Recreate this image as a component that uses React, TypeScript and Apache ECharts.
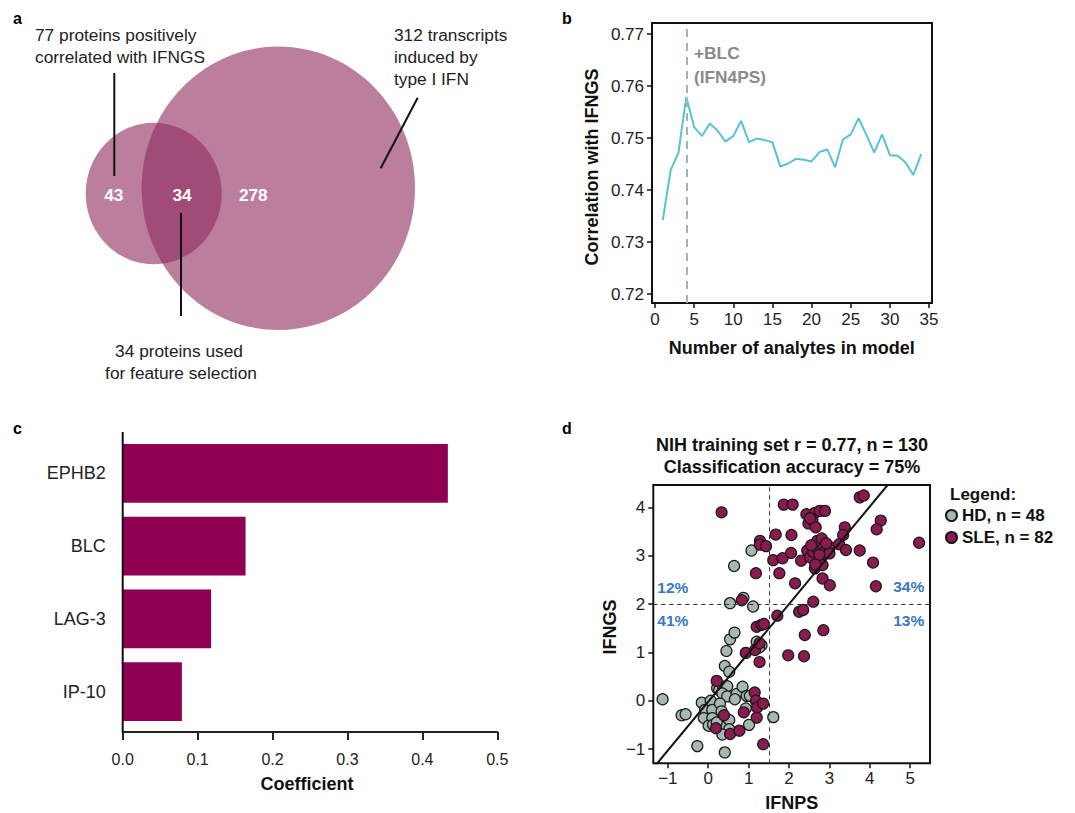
import React, { useEffect, useRef } from "react";
import * as echarts from "echarts";

const FONT = '"Liberation Sans", Arial, Helvetica, sans-serif';

// Panel a – Venn counts
const VENN_LEFT_ONLY = 43;
const VENN_OVERLAP = 34;
const VENN_RIGHT_ONLY = 278;

// Panel b – correlation vs number of analytes
const B_X = [1,2,3,4,5,6,7,8,9,10,11,12,13,14,15,16,17,18,19,20,21,22,23,24,25,26,27,28,29,30,31,32,33,34];
const B_Y = [0.7342,0.7438,0.7472,0.7579,0.7521,0.7504,0.7528,0.7514,0.7493,0.7504,0.7533,0.7492,0.7499,0.7496,0.7492,0.7445,0.7451,0.7460,0.7458,0.7455,0.7473,0.7478,0.7444,0.7497,0.7507,0.7538,0.7506,0.7472,0.7507,0.7467,0.7466,0.7453,0.7429,0.7469];
const B_XTICKS = [0, 5, 10, 15, 20, 25, 30, 35];
const B_YTICKS = [0.72, 0.73, 0.74, 0.75, 0.76, 0.77];
const BLC_STEP = 4;

// Panel c – coefficients
const C_CATS = ["EPHB2", "BLC", "LAG-3", "IP-10"];
const C_VALS = [0.434, 0.164, 0.118, 0.079];

// Panel d – scatter
const D_XTICKS = [-1, 0, 1, 2, 3, 4, 5];
const D_YTICKS = [-1, 0, 1, 2, 3, 4];
const D_XCUT = 1.5;
const D_YCUT = 2;
const REG_SLOPE = 1.01;
const REG_INTERCEPT = -0.02;
const QUAD_LABELS = ["12%", "41%", "34%", "13%"];
const HD = [
  [-1.13,0.03],[-0.66,-0.30],[-0.56,-0.28],[-0.27,-0.94],
  [-0.16,-0.04],[-0.08,-0.19],[-0.11,-0.36],[0.06,0.00],[0.10,-0.19],[0.10,-0.36],[0.01,-0.52],[0.12,-0.50],
  [0.22,0.26],[0.27,0.22],[0.37,0.29],[0.47,0.30],[0.35,0.15],[0.47,0.09],[0.29,-0.06],[0.33,-0.22],[0.37,-0.38],[0.33,-0.54],[0.52,-0.40],[0.52,-0.59],[0.35,-0.70],[0.41,-1.07],
  [0.70,0.14],[0.85,0.29],[0.95,0.10],[1.03,0.10],[0.93,-0.16],[1.01,-0.50],[1.61,-0.34],
  [0.41,0.72],[0.52,0.60],[0.45,1.03],[0.54,1.27],[0.65,1.41],[0.54,2.02],[0.87,2.13],[1.11,1.95],[0.64,2.79],[1.07,3.11],[1.20,1.22],[1.32,1.15],[1.26,1.10],[0.66,0.03],[0.21,-0.45]
];
const SLE = [
  [0.33,3.90],[1.87,4.06],[2.09,4.06],[2.43,3.86],[2.48,3.67],[2.64,3.89],[2.76,3.93],[2.89,3.93],[2.58,3.74],[2.66,3.59],
  [1.67,3.44],[2.06,3.43],[1.28,3.31],[1.28,3.23],[1.43,3.20],[1.18,2.64],[1.61,2.91],[1.84,2.95],[2.05,3.06],[2.30,2.90],
  [1.76,2.64],[2.15,2.43],[2.45,3.11],[2.52,2.97],[2.60,3.08],[2.64,2.74],[2.68,3.17],[2.70,3.31],[2.81,3.36],[2.83,3.05],
  [2.83,2.81],[2.85,3.16],[2.89,3.09],[2.83,2.53],[3.01,2.39],[2.99,3.19],[3.00,3.05],[2.60,2.05],[2.25,1.84],[2.35,1.88],
  [1.71,1.76],[0.83,2.08],[1.20,1.53],[1.32,1.57],[1.38,1.59],[2.39,1.36],[2.85,1.46],[1.98,0.94],[2.37,0.92],[0.93,0.99],
  [1.16,1.05],[1.27,1.19],[1.27,0.80],[0.21,0.41],[1.15,0.17],[1.18,0.00],[1.21,-0.14],[1.36,-0.06],[0.88,-0.24],[1.20,-0.35],
  [0.39,-0.30],[0.19,-0.57],[0.54,-0.69],[0.77,-0.62],[1.36,-0.90],
  [3.75,4.21],[3.85,4.25],[3.38,3.59],[3.34,3.43],[3.24,3.24],[3.41,3.12],[3.75,3.11],[4.27,3.73],[4.17,3.55],[4.08,2.86],[4.15,2.37],[5.22,3.27],
  [2.75,3.02],[2.55,3.22],[2.92,3.26],[2.65,2.82],[2.52,3.78]
];

const D_XMIN = -1.36, D_XMAX = 5.49, D_YMIN = -1.296, D_YMAX = 4.466;

function T(text: string, x: number, y: number, o: any = {}) {
  return {
    type: "text",
    x, y,
    rotation: o.rot || 0,
    z: 20,
    style: {
      text,
      fontSize: o.size || 17.3,
      fontWeight: o.bold ? "bold" : "normal",
      fontFamily: FONT,
      fill: o.color || "#222",
      align: o.align || "left",
      verticalAlign: "middle",
    },
  };
}
function L(x1: number, y1: number, x2: number, y2: number) {
  return { type: "line", z: 20, shape: { x1, y1, x2, y2 }, style: { stroke: "#111", lineWidth: 2 } };
}

const tickStyle = { color: "#111", width: 1.5 };
const labelStyle = { fontSize: 17, color: "#222", fontFamily: FONT };
const minus = (v: number) => String(v).replace("-", "\u2212");
const hiddenLine = { show: false, onZero: false };

export default function App() {
  const ref = useRef<HTMLDivElement>(null);
  useEffect(() => {
    const chart = echarts.init(ref.current!, null, { renderer: "svg" });
    const vennFill = "rgba(142,42,92,0.6)";
    const option: any = {
      animation: false,
      backgroundColor: "#fff",
      textStyle: { fontFamily: FONT },
      grid: [
        { left: 652, top: 23, width: 280, height: 280, show: true, borderColor: "#111", borderWidth: 2, backgroundColor: "transparent", outerBoundsMode: "none" },
        { left: 122.7, top: 437, width: 374.6, height: 291, outerBoundsMode: "none" },
        { left: 653.3, top: 485, width: 276.7, height: 278.3, show: true, borderColor: "#111", borderWidth: 2, backgroundColor: "transparent", outerBoundsMode: "none" },
      ],
      xAxis: [
        {
          gridIndex: 0, type: "value", min: -0.38, max: 35.38, position: "bottom",
          axisLine: hiddenLine,
          axisTick: { show: true, length: 5, lineStyle: tickStyle, customValues: B_XTICKS },
          axisLabel: { ...labelStyle, margin: 8, customValues: B_XTICKS },
          splitLine: { show: false },
        },
        {
          gridIndex: 1, type: "value", min: 0, max: 0.5, interval: 0.1, offset: 4, position: "bottom",
          axisLine: { show: true, onZero: false, lineStyle: { color: "#222", width: 2 } },
          axisTick: { show: true, length: 8, lineStyle: { color: "#222", width: 2 } },
          axisLabel: { fontSize: 16, color: "#222", fontFamily: FONT, margin: 19, formatter: (v: number) => v.toFixed(1) },
          splitLine: { show: false },
        },
        {
          gridIndex: 2, type: "value", min: D_XMIN, max: D_XMAX, position: "bottom",
          axisLine: hiddenLine,
          axisTick: { show: true, length: 5, lineStyle: tickStyle, customValues: D_XTICKS },
          axisLabel: { ...labelStyle, margin: 7, customValues: D_XTICKS, formatter: minus },
          splitLine: { show: false },
        },
      ],
      yAxis: [
        {
          gridIndex: 0, type: "value", min: 0.71827, max: 0.77212, position: "left",
          axisLine: hiddenLine,
          axisTick: { show: true, length: 5, lineStyle: tickStyle, customValues: B_YTICKS },
          axisLabel: { ...labelStyle, margin: 8, customValues: B_YTICKS, formatter: (v: number) => v.toFixed(2) },
          splitLine: { show: false },
        },
        {
          gridIndex: 1, type: "category", data: C_CATS, inverse: true, position: "left",
          axisLine: hiddenLine, axisTick: { show: false },
          axisLabel: { fontSize: 18, color: "#222", fontFamily: FONT, margin: 17 },
          splitLine: { show: false },
        },
        {
          gridIndex: 2, type: "value", min: D_YMIN, max: D_YMAX, position: "left",
          axisLine: hiddenLine,
          axisTick: { show: true, length: 5, lineStyle: tickStyle, customValues: D_YTICKS },
          axisLabel: { ...labelStyle, margin: 8, customValues: D_YTICKS, formatter: minus },
          splitLine: { show: false },
        },
      ],
      legend: {
        data: ["HD, n = 48", "SLE, n = 82"],
        orient: "vertical", left: 945, top: 507, padding: 0,
        icon: "circle", itemWidth: 11, itemHeight: 11, itemGap: 5,
        textStyle: { fontSize: 17, fontWeight: "bold", color: "#111", fontFamily: FONT },
        selectedMode: false,
      },
      series: [
        {
          type: "line", xAxisIndex: 0, yAxisIndex: 0,
          data: B_X.map((x, i) => [x, B_Y[i]]),
          showSymbol: false, symbol: "none",
          lineStyle: { color: "#56c4d6", width: 2 },
          markLine: {
            silent: true, symbol: ["none", "none"], label: { show: false },
            lineStyle: { color: "#9cb8ae", type: [8, 6], width: 2 },
            data: [{ xAxis: BLC_STEP }],
          },
        },
        {
          type: "bar", xAxisIndex: 1, yAxisIndex: 1, data: C_VALS,
          barCategoryGap: "19%",
          itemStyle: { color: "#8f0053" },
        },
        {
          type: "line", xAxisIndex: 2, yAxisIndex: 2, clip: true,
          data: [D_XMIN, D_XMAX].map((x) => [x, REG_INTERCEPT + REG_SLOPE * x]),
          symbol: "none", lineStyle: { color: "#111", width: 2 },
          markLine: {
            silent: true, symbol: ["none", "none"], label: { show: false },
            lineStyle: { color: "#333", type: [4, 4], width: 1 },
            data: [{ xAxis: D_XCUT }, { yAxis: D_YCUT }],
          },
        },
        {
          name: "HD, n = 48", type: "scatter", xAxisIndex: 2, yAxisIndex: 2, clip: false,
          data: HD, symbolSize: 11,
          itemStyle: { color: "#a6b9b1", borderColor: "#1a1a1a", borderWidth: 1.2, opacity: 1 },
        },
        {
          name: "SLE, n = 82", type: "scatter", xAxisIndex: 2, yAxisIndex: 2, clip: false,
          data: SLE, symbolSize: 11,
          itemStyle: { color: "#8a1a4f", borderColor: "#1a1a1a", borderWidth: 1.2, opacity: 1 },
        },
      ],
      graphic: [
        // panel letters
        T("a", 13, 18, { bold: true, size: 16, color: "#000" }),
        T("b", 562, 18, { bold: true, size: 16, color: "#000" }),
        T("c", 13, 428, { bold: true, size: 16, color: "#000" }),
        T("d", 562, 428, { bold: true, size: 16, color: "#000" }),
        // venn
        { type: "ellipse", z: 5, shape: { cx: 153.7, cy: 193.5, rx: 68, ry: 70.8 }, style: { fill: vennFill } },
        { type: "ellipse", z: 5, shape: { cx: 278.3, cy: 188.3, rx: 136.7, ry: 141.7 }, style: { fill: vennFill } },
        T(String(VENN_LEFT_ONLY), 113.8, 195, { bold: true, color: "#fff", align: "center" }),
        T(String(VENN_OVERLAP), 182, 195, { bold: true, color: "#fff", align: "center" }),
        T(String(VENN_RIGHT_ONLY), 253.3, 195, { bold: true, color: "#fff", align: "center" }),
        T("77 proteins positively", 35, 35),
        T("correlated with IFNGS", 35, 57),
        T("312 transcripts", 394, 35),
        T("induced by", 394, 57),
        T("type I IFN", 394, 79),
        T("34 proteins used", 179, 351, { align: "center" }),
        T("for feature selection", 181, 373, { align: "center" }),
        L(114.3, 73, 114.3, 176),
        L(181, 213, 181, 316),
        L(417.7, 97.7, 380.7, 168.3),
        // panel b texts
        T("+BLC", 694, 53, { bold: true, color: "#8a8a8a" }),
        T("(IFN4PS)", 694, 76.5, { bold: true, color: "#8a8a8a" }),
        T("Number of analytes in model", 791.7, 348, { bold: true, size: 18, align: "center", color: "#111" }),
        T("Correlation with IFNGS", 591.7, 167, { bold: true, size: 18, align: "center", color: "#111", rot: Math.PI / 2 }),
        // panel c
        L(122.7, 432, 122.7, 732.3),
        T("Coefficient", 307, 784, { bold: true, size: 18, align: "center", color: "#111" }),
        // panel d
        T("NIH training set r = 0.77, n = 130", 792, 445, { bold: true, size: 18, align: "center", color: "#111" }),
        T("Classification accuracy = 75%", 792, 467, { bold: true, size: 18, align: "center", color: "#111" }),
        T("IFNPS", 791.7, 803, { bold: true, size: 18, align: "center", color: "#111" }),
        T("IFNGS", 610, 627, { bold: true, size: 18, align: "center", color: "#111", rot: Math.PI / 2 }),
        T(QUAD_LABELS[0], 672.8, 587.3, { bold: true, size: 15.5, align: "center", color: "#3a78c2" }),
        T(QUAD_LABELS[1], 672.8, 620.7, { bold: true, size: 15.5, align: "center", color: "#3a78c2" }),
        T(QUAD_LABELS[2], 908.7, 586.7, { bold: true, size: 15.5, align: "center", color: "#3a78c2" }),
        T(QUAD_LABELS[3], 908.7, 620.7, { bold: true, size: 15.5, align: "center", color: "#3a78c2" }),
        T("Legend:", 950, 494, { bold: true, size: 17, color: "#111" }),
      ],
    };
    chart.setOption(option);
    return () => chart.dispose();
  }, []);
  return (
    <div
      ref={ref}
      style={{ position: "fixed", left: 0, top: 0, width: 1075, height: 813, background: "#fff" }}
    />
  );
}
